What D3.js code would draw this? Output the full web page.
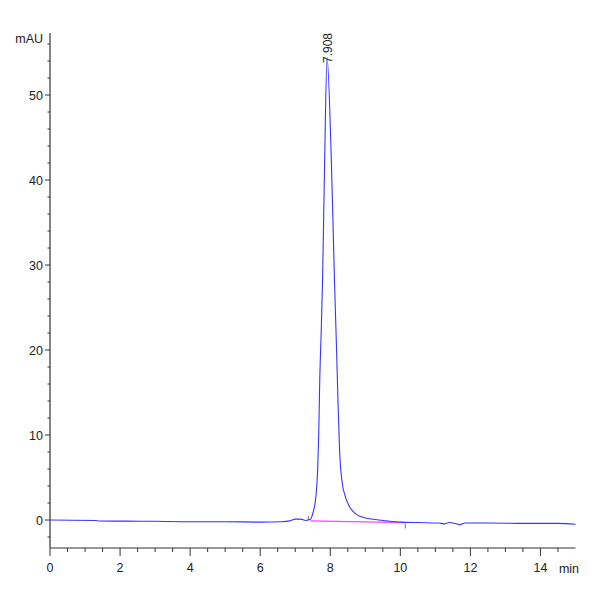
<!DOCTYPE html>
<html>
<head>
<meta charset="utf-8">
<script src="https://cdn.jsdelivr.net/npm/d3@7"></script>
<style>
  body { margin: 0; background: #fff; }
  svg { display: block; }
  .lbl { font-family: "Liberation Sans Narrow", "Arial Narrow", "Liberation Sans", sans-serif; font-size: 12.5px; fill: #222; }
</style>
</head>
<body>
<div id="chart"></div>
<script>
// chromatogram trace (min, mAU)
const times = [0, 1.3, 1.4, 3, 4, 5, 6, 6.6, 6.85, 7.0, 7.15, 7.3, 7.43, 7.49, 7.54, 7.59, 7.64, 7.67, 7.7, 7.74,
  7.78, 7.84, 7.908, 8.03, 8.12, 8.18, 8.22, 8.27, 8.33, 8.43, 8.55, 8.71, 8.95, 9.24, 9.6, 10, 10.5, 11.1, 11.25,
  11.4, 11.6, 11.7, 11.85, 12.5, 13.5, 14.5, 15];
const signal = [0, -0.05, -0.12, -0.15, -0.2, -0.2, -0.25, -0.2, -0.1, 0.1, 0.1, -0.05, 0.08, 0.6, 1.4, 2.75, 5.9, 10, 16.5, 22,
  28.2, 42.4, 54.4, 42.4, 28.2, 20, 14, 7.8, 4.7, 2.75, 1.56, 0.78, 0.3, 0.08, -0.1, -0.25, -0.3, -0.35, -0.45,
  -0.3, -0.45, -0.55, -0.35, -0.35, -0.4, -0.4, -0.5];

// integration baseline of the peak
const baseTimes = [7.43, 10.14];
const baseValues = [-0.1, -0.3];

// peak label
const peakTime = 7.908;
const peakLabel = "7.908";

const xTicks = [0, 2, 4, 6, 8, 10, 12, 14];
const yTicks = [0, 10, 20, 30, 40, 50];

const width = 600, height = 600;

let svg = d3.select('#chart').append('svg')
  .attr('width', width)
  .attr('height', height);

let x = d3.scaleLinear().domain([0, 15]).range([50, 575.5]);
let y = d3.scaleLinear().domain([-3.294, 57.3]).range([548, 33]);

// x axis
let xAxis = svg.append('g').attr('transform', 'translate(0,548)');
xAxis.append('line')
  .attr('x1', x(0)).attr('x2', x(15))
  .attr('stroke', '#333').attr('stroke-width', 1.2);
xAxis.selectAll('.minor')
  .data(d3.range(1, 30).map(d => d / 2))
  .enter().append('line')
    .attr('x1', d => x(d)).attr('x2', d => x(d))
    .attr('y1', 0).attr('y2', d => (d % 2 === 0 ? 8 : 4))
    .attr('stroke', '#333').attr('stroke-width', 1);
xAxis.append('line')
  .attr('x1', x(0)).attr('x2', x(0)).attr('y1', 0).attr('y2', 8)
  .attr('stroke', '#333');
xAxis.selectAll('.tl')
  .data(xTicks)
  .enter().append('text')
    .attr('class', 'lbl')
    .attr('x', d => x(d))
    .attr('y', 24)
    .attr('text-anchor', 'middle')
    .text(d => d);
xAxis.append('text')
  .attr('class', 'lbl')
  .attr('x', 569)
  .attr('y', 25)
  .attr('text-anchor', 'middle')
  .text('min');

// y axis
let yAxis = svg.append('g').attr('transform', 'translate(50,0)');
yAxis.append('line')
  .attr('y1', y(-3.294)).attr('y2', y(57.3))
  .attr('stroke', '#333').attr('stroke-width', 1.2);
yAxis.selectAll('.minor')
  .data(d3.range(-2, 57, 2))
  .enter().append('line')
    .attr('y1', d => y(d)).attr('y2', d => y(d))
    .attr('x1', d => (d % 10 === 0 ? -5 : -2.5)).attr('x2', 0)
    .attr('stroke', '#333').attr('stroke-width', 1);
yAxis.selectAll('.tl')
  .data(yTicks)
  .enter().append('text')
    .attr('class', 'lbl')
    .attr('x', -7)
    .attr('y', d => y(d) + 4.5)
    .attr('text-anchor', 'end')
    .text(d => d);
yAxis.append('text')
  .attr('class', 'lbl')
  .attr('x', -7)
  .attr('y', 43)
  .attr('text-anchor', 'end')
  .text('mAU');

// integration baseline
let basePts = baseTimes.map((t, i) => [t, baseValues[i]]);
svg.append('path')
  .datum(basePts)
  .attr('d', d3.line().x(d => x(d[0])).y(d => y(d[1])))
  .attr('fill', 'none')
  .attr('stroke', '#ff44ff')
  .attr('stroke-width', 1.3);

// peak start / end marks
svg.append('line')
  .attr('x1', x(baseTimes[0]) - 2).attr('x2', x(baseTimes[0]) - 2)
  .attr('y1', y(baseValues[0]) - 5).attr('y2', y(baseValues[0]))
  .attr('stroke', '#777');
svg.append('line')
  .attr('x1', x(baseTimes[1])).attr('x2', x(baseTimes[1]))
  .attr('y1', y(baseValues[1]) + 1).attr('y2', y(baseValues[1]) + 6)
  .attr('stroke', '#777');

// trace
let pts = times.map((t, i) => [t, signal[i]]);
svg.append('path')
  .datum(pts)
  .attr('d', d3.line().curve(d3.curveMonotoneX).x(d => x(d[0])).y(d => y(d[1])))
  .attr('fill', 'none')
  .attr('stroke', '#3535ff')
  .attr('stroke-width', 1.1);

// peak label, rotated
svg.append('text')
  .attr('class', 'lbl')
  .attr('transform', 'translate(' + (x(peakTime) + 4.5) + ',63) rotate(-90)')
  .attr('text-anchor', 'start')
  .style('font-family', '"Liberation Sans", sans-serif')
  .style('font-size', '12px')
  .text(peakLabel);
</script>
</body>
</html>
